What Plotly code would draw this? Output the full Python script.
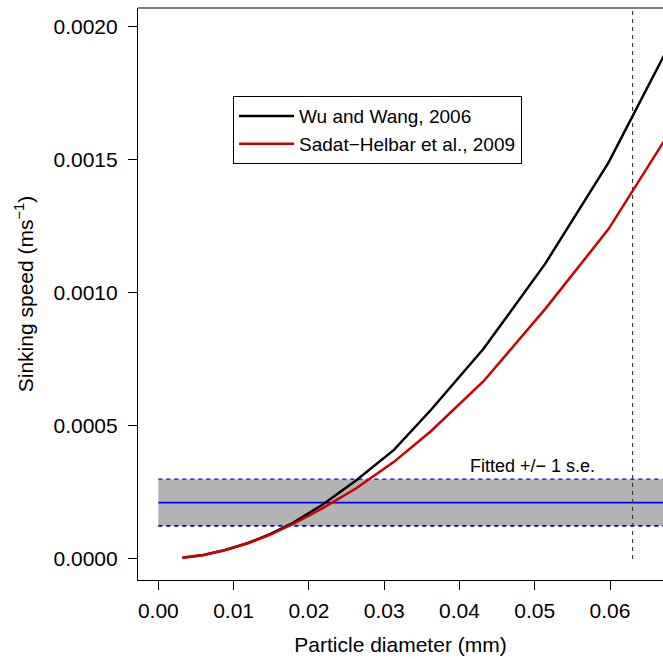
import plotly.graph_objects as go

# Particle diameter (mm) at curve nodes
diameter = [0.0032, 0.0060, 0.0089, 0.0119, 0.0149, 0.0179, 0.0218, 0.0263,
            0.0313, 0.0362, 0.0432, 0.0514, 0.0598, 0.0685]
# Sinking speed (m/s), Wu and Wang 2006
wu_wang = [0.000005, 0.000015, 0.000034, 0.000060, 0.000094, 0.000136, 0.000204,
           0.000296, 0.000410, 0.000560, 0.000790, 0.001110, 0.001490, 0.001965]
# Sinking speed (m/s), Sadat-Helbar et al. 2009
sadat_helbar = [0.000005, 0.000015, 0.000034, 0.000059, 0.000092, 0.000132, 0.000190,
                0.000266, 0.000365, 0.000480, 0.000668, 0.000940, 0.001240, 0.001630]

fitted_x = [0.0, 0.070]
fitted_mean = 0.000212
fitted_lower = 0.000125
fitted_upper = 0.000300

vline_x = 0.063
vline_y = [0.0, 0.0022]

x_ticks = [0.00, 0.01, 0.02, 0.03, 0.04, 0.05, 0.06]
y_ticks = [0.0000, 0.0005, 0.0010, 0.0015, 0.0020]

FONT = "Liberation Sans, Arial, sans-serif"

fig = go.Figure()

# shaded band +/- 1 s.e.
fig.add_trace(go.Scatter(x=fitted_x, y=[fitted_lower] * 2, mode="lines",
                         line=dict(color="#0000FF", width=1.3, dash="4px,4px"),
                         showlegend=False, hoverinfo="skip"))
fig.add_trace(go.Scatter(x=fitted_x, y=[fitted_upper] * 2, mode="lines",
                         line=dict(color="#0000FF", width=1.3, dash="4px,4px"),
                         fill="tonexty", fillcolor="#B3B3B3",
                         showlegend=False, hoverinfo="skip"))
fig.add_trace(go.Scatter(x=fitted_x, y=[fitted_lower] * 2, mode="lines",
                         line=dict(color="#0000FF", width=1.3, dash="4px,4px"),
                         showlegend=False, hoverinfo="skip"))
fig.add_trace(go.Scatter(x=fitted_x, y=[fitted_mean] * 2, mode="lines",
                         line=dict(color="#0000FF", width=1.6),
                         showlegend=False, hoverinfo="skip"))

# vertical dashed line
fig.add_trace(go.Scatter(x=[vline_x, vline_x], y=vline_y, mode="lines",
                         line=dict(color="#333333", width=1.1, dash="4px,4px"),
                         showlegend=False, hoverinfo="skip"))

fig.add_trace(go.Scatter(x=diameter, y=wu_wang, mode="lines",
                         name="Wu and Wang, 2006",
                         line=dict(color="black", width=2.5)))
fig.add_trace(go.Scatter(x=diameter, y=sadat_helbar, mode="lines",
                         name="Sadat\u2212Helbar et al., 2009",
                         line=dict(color="#CD0000", width=2.5)))

fig.add_annotation(x=0.0497, y=0.000350, text="Fitted +/\u2212 1 s.e.",
                   showarrow=False, xref="x", yref="y",
                   font=dict(family=FONT, size=18, color="black"))

# top border of the box (right side is cropped in the original)
fig.add_shape(type="line", xref="paper", yref="paper", x0=0, x1=1, y0=1, y1=1,
              line=dict(color="black", width=1.2))

fig.update_layout(
    width=663, height=659,
    margin=dict(l=138, r=0, t=8, b=79),
    paper_bgcolor="white", plot_bgcolor="white",
    font=dict(family=FONT, size=21, color="black"),
    legend=dict(x=0.181, y=0.846, xanchor="left", yanchor="top",
                traceorder="normal",
                bordercolor="black", borderwidth=1, bgcolor="white",
                font=dict(size=19), tracegroupgap=0, itemwidth=55),
    xaxis=dict(range=[-0.0027, 0.06704], tickvals=x_ticks, tickformat=".2f",
               showgrid=False, zeroline=False, showline=True, linecolor="black",
               linewidth=1.2, ticks="outside", ticklen=9, tickcolor="black",
               tickwidth=1.2, ticklabelstandoff=3,
               title=dict(text="Particle diameter (mm)", standoff=16,
                          font=dict(size=21))),
    yaxis=dict(range=[-0.000079, 0.002071], tickvals=y_ticks, tickformat=".4f",
               showgrid=False, zeroline=False, showline=True, linecolor="black",
               linewidth=1.2, ticks="outside", ticklen=9, tickcolor="black",
               tickwidth=1.2, ticklabelstandoff=6,
               title=dict(text="Sinking speed (ms<sup>\u22121</sup>)", standoff=14,
                          font=dict(size=21))),
)

# remove the default 8px page margin so the figure fills the window exactly
fig.write_html("out.html", config={"displayModeBar": False},
               post_script="document.body.style.margin='0';")
